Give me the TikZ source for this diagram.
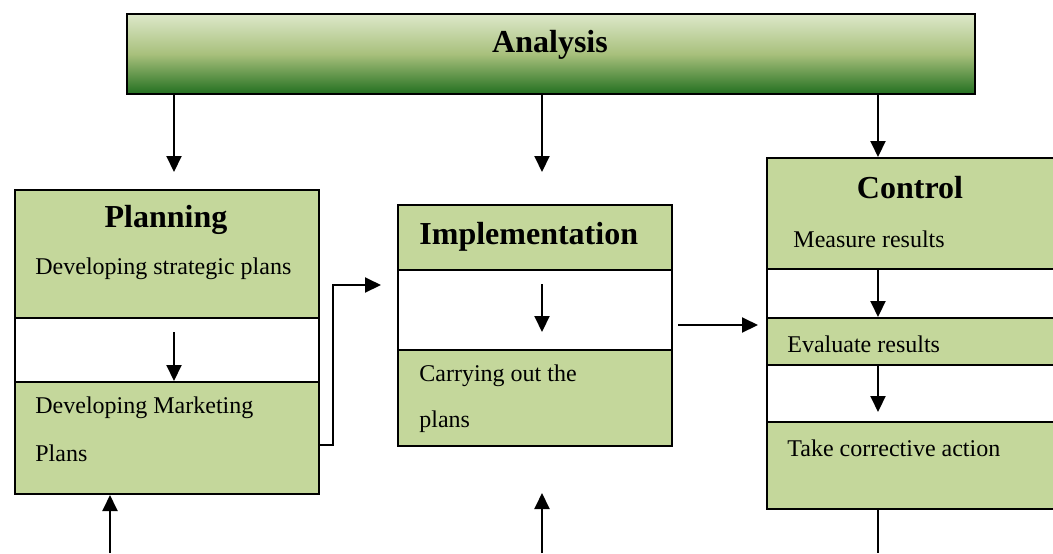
\documentclass[tikz,border=0pt]{standalone}
\usepackage{fontspec}
\setmainfont{Liberation Serif}
\usetikzlibrary{arrows.meta,shadings}
\definecolor{boxgreen}{HTML}{C4D79B}
\definecolor{bartop}{HTML}{DDE8CA}
\definecolor{barmid}{HTML}{A8C07C}
\definecolor{barbot}{HTML}{237020}
\tikzset{
  greenbox/.style={draw,line width=1pt,fill=boxgreen,anchor=north west,inner sep=0},
  frame/.style={draw,line width=1pt,anchor=north west,inner sep=0},
  head/.style={font=\fontsize{16}{19}\selectfont\bfseries,inner sep=0},
  body/.style={font=\fontsize{12}{14}\selectfont,inner sep=0,anchor=west},
  arr/.style={line width=1pt,-{Triangle[length=8pt,width=7.5pt]}},
  ln/.style={line width=1pt}
}
\begin{document}
\begin{tikzpicture}[x=0.5pt,y=-0.5pt]
	\useasboundingbox (0,0) rectangle (1053,553);
	\clip (0,0) rectangle (1053,553);
	% analysis bar
	\node[draw,line width=1pt,anchor=north west,inner sep=0,minimum width=424pt,minimum height=40pt,
		top color=bartop,bottom color=barbot,middle color=barmid] (analysis) at (126,13) {};
	\node[head] (analysistxt) at (550,45) {Analysis};
	% planning
	\node[greenbox,minimum width=152pt,minimum height=64pt] (plantop) at (14,189) {};
	\node[greenbox,minimum width=152pt,minimum height=56pt] (planbot) at (14,381) {};
	\node[frame,minimum width=152pt,minimum height=152pt] (planframe) at (14,189) {};
	\node[head] (planhead) at (166,220) {Planning};
	\node[body] (strat) at (35,269) {Developing strategic plans};
	\node[body] (mkt1) at (35,408) {Developing Marketing};
	\node[body] (mkt2) at (35,453) {Plans};
	% implementation
	\node[greenbox,minimum width=137pt,minimum height=32.5pt] (imptop) at (397,204) {};
	\node[greenbox,minimum width=137pt,minimum height=48pt] (impbot) at (397,349) {};
	\node[frame,minimum width=137pt,minimum height=120.5pt] (impframe) at (397,204) {};
	\node[head,anchor=west] (imphead) at (419,237) {Implementation};
	\node[body] (carry1) at (419,376) {Carrying out the};
	\node[body] (carry2) at (419,422) {plans};
	% control
	\node[greenbox,minimum width=145pt,minimum height=55.5pt] (ctltop) at (766,157) {};
	\node[greenbox,minimum width=145pt,minimum height=23.5pt] (ctleval) at (766,317) {};
	\node[greenbox,minimum width=145pt,minimum height=43.5pt] (ctlact) at (766,421) {};
	\node[frame,minimum width=145pt,minimum height=175.5pt] (ctlframe) at (766,157) {};
	\node[head] (ctlhead) at (910,188) {Control};
	\node[body] (measure) at (793,239) {Measure results};
	\node[body] (evaluate) at (787,344) {Evaluate results};
	\node[body] (action) at (787,448) {Take corrective action};
	% free ends
	\coordinate (p1) at (174,172);
	\coordinate (i1) at (542,172);
	\coordinate (p2) at (174,332);
	\coordinate (i2) at (542,284);
	\coordinate (i3) at (542,332);
	\coordinate (c1) at (878,412);
	\coordinate (pi) at (381,285);
	\coordinate (ic1) at (678,325);
	\coordinate (ic2) at (758,325);
	\coordinate (b1) at (110,553);
	\coordinate (b2) at (542,553);
	\coordinate (b3) at (878,553);
	% arrows
	\draw[arr] (analysis.south -| p1)--(p1);
	\draw[arr] (analysis.south -| i1)--(i1);
	\draw[arr] (analysis.south -| ctltop.north -| b3)--(ctltop.north -| b3);
	\draw[arr] (p2)--(planbot.north -| p2);
	\draw[arr] (i2)--(i3);
	\draw[arr] (ctltop.south -| b3)--(ctleval.north -| b3);
	\draw[arr] (ctleval.south -| b3)--(c1);
	\draw[arr] (planbot.east |- 0,445)--(333,445)--(333,285)--(pi);
	\draw[arr] (ic1)--(ic2);
	\draw[arr] (b1)--(planbot.south -| b1);
	\draw[arr] (b2)--(542,493);
	\draw[ln] (ctlact.south -| b3)--(b3);
\end{tikzpicture}
\end{document}
